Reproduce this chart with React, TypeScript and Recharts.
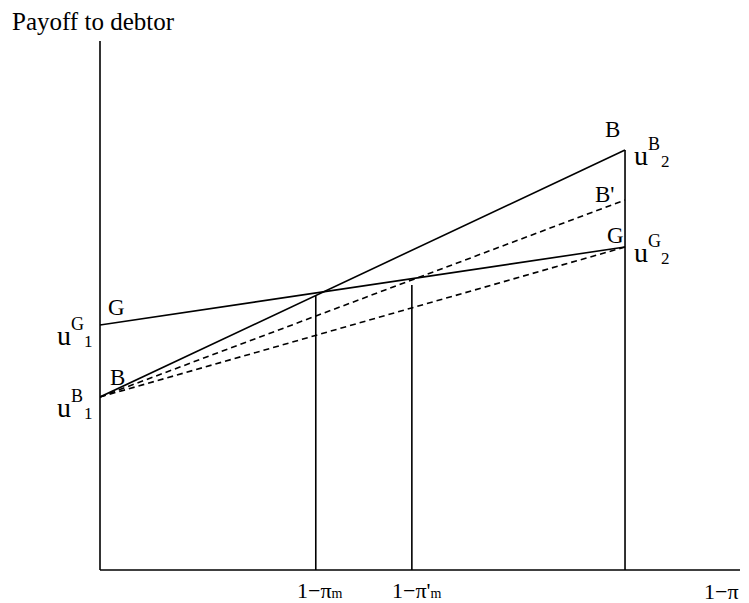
import { LineChart, Line, XAxis, YAxis } from "recharts";

// horizontal axis: 1-π, the two payoff lines run from 0 to 1
const shareEnds = [0, 1];
const payoffB = [1.73, 4.2];
const payoffG = [2.45, 3.23];
const payoffBPrime = [1.73, 3.7];
const payoffLowDash = [1.73, 3.23];

// cut-off points 1-πm and 1-π'm, with the height where their drop lines stop
const cutoffShares = [0.411, 0.594];
const cutoffTops = [2.75, 2.85];

const xLabels = ["1−π", "1−π'", "1−π"];
const xDomain = [0, 1.219];
const yDomain = [0, 5.29];

const serif = "'Liberation Serif', 'Times New Roman', serif";

function toPoints(xs: number[], ys: number[]) {
  return xs.map((x, i) => ({ x, y: ys[i] }));
}

function dropLine(x: number, top: number) {
  return [
    { x, y: 0 },
    { x, y: top },
  ];
}

// u with a superscript and subscript, as in the original figure
function UTerm({ x, y, sup, sub }: { x: number; y: number; sup: string; sub: string }) {
  return (
    <g fontFamily={serif} fill="#000">
      <text x={x} y={y} fontSize={28}>
        u
      </text>
      <text x={x + 14} y={y - 15} fontSize={18}>
        {sup}
      </text>
      <text x={x + 27} y={y + 2} fontSize={17}>
        {sub}
      </text>
    </g>
  );
}

export default function App() {
  const lineProps = {
    type: "linear" as const,
    dataKey: "y",
    dot: false,
    activeDot: false,
    stroke: "#000",
    strokeWidth: 1.6,
    isAnimationActive: false,
  };

  return (
    <div style={{ position: "absolute", left: 0, top: 0, width: 749, height: 603, background: "#fff" }}>
      <LineChart width={749} height={603} margin={{ top: 41, right: 9, bottom: 32, left: 99 }}>
        <XAxis
          type="number"
          dataKey="x"
          domain={xDomain}
          allowDataOverflow
          height={1}
          tick={false}
          tickLine={false}
          axisLine={{ stroke: "#000", strokeWidth: 1.6 }}
        />
        <YAxis
          type="number"
          domain={yDomain}
          allowDataOverflow
          width={1}
          tick={false}
          tickLine={false}
          axisLine={{ stroke: "#000", strokeWidth: 1.6 }}
        />
        <Line {...lineProps} data={toPoints(shareEnds, payoffB)} />
        <Line {...lineProps} data={toPoints(shareEnds, payoffG)} />
        <Line {...lineProps} data={toPoints(shareEnds, payoffBPrime)} strokeDasharray="6 4" />
        <Line {...lineProps} data={toPoints(shareEnds, payoffLowDash)} strokeDasharray="6 4" />
        <Line {...lineProps} data={dropLine(cutoffShares[0], cutoffTops[0])} />
        <Line {...lineProps} data={dropLine(cutoffShares[1], cutoffTops[1])} />
        <Line {...lineProps} data={dropLine(shareEnds[1], payoffB[1])} />
      </LineChart>

      <svg
        width={749}
        height={603}
        style={{ position: "absolute", left: 0, top: 0, pointerEvents: "none" }}
      >
        <text x={12} y={30} fontFamily={serif} fontSize={25}>
          Payoff to debtor
        </text>

        <g fontFamily={serif} fontSize={23}>
          <text x={108} y={315}>G</text>
          <text x={110} y={385}>B</text>
          <text x={605} y={137}>B</text>
          <text x={595} y={202}>B'</text>
          <text x={607} y={243}>G</text>
        </g>

        <UTerm x={57} y={345} sup="G" sub="1" />
        <UTerm x={57} y={417} sup="B" sub="1" />
        <UTerm x={634} y={165} sup="B" sub="2" />
        <UTerm x={634} y={262} sup="G" sub="2" />

        <g fontFamily={serif} fontSize={22}>
          <text x={297} y={598}>
            {xLabels[0]}
            <tspan fontSize={14}>m</tspan>
          </text>
          <text x={392} y={598}>
            {xLabels[1]}
            <tspan fontSize={14}>m</tspan>
          </text>
          <text x={704} y={599}>
            {xLabels[2]}
          </text>
        </g>
      </svg>
    </div>
  );
}
